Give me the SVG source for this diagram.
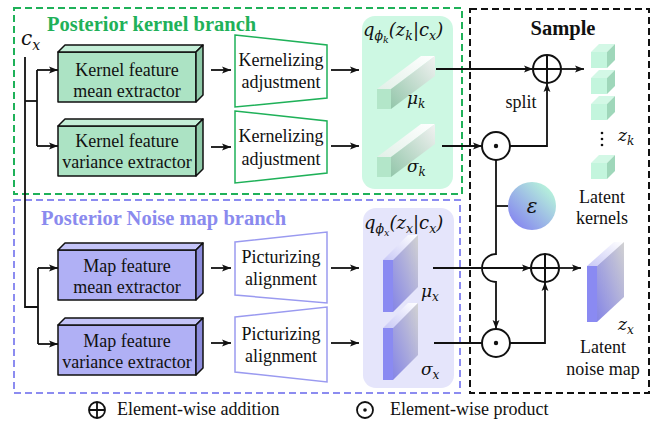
<svg xmlns="http://www.w3.org/2000/svg" width="657" height="422" viewBox="0 0 657 422">
  <style>
    .lbl { font-family: "Liberation Serif", "DejaVu Serif", serif; font-size: 18px; fill: #111; }
    .ttl { font-family: "Liberation Serif", "DejaVu Serif", serif; font-size: 20.5px; font-weight: bold; }
    .math { font-family: "DejaVu Serif", "Liberation Serif", serif; font-style: italic; fill: #111; }
    .wire { fill: none; stroke: #111; stroke-width: 1.8; }
    .arr { marker-end: url(#head); }
    .box { stroke: #111; stroke-width: 1.5; stroke-linejoin: round; }
    .op { fill: #fff; stroke: #111; stroke-width: 2; }
  </style>
  <defs>
    <marker id="head" markerUnits="userSpaceOnUse" markerWidth="10" markerHeight="8" refX="9" refY="4" orient="auto">
      <path d="M0,0.6 L9,4 L0,7.4 L2,4 Z" fill="#111"/>
    </marker>
    <linearGradient id="barTop" x1="0" y1="1" x2="1" y2="0">
      <stop offset="0" stop-color="#e2f0e8"/>
      <stop offset="1" stop-color="#ffffff"/>
    </linearGradient>
    <linearGradient id="barSide" x1="0" y1="1" x2="1" y2="0">
      <stop offset="0" stop-color="#93c6aa"/>
      <stop offset="1" stop-color="#f2f2f2"/>
    </linearGradient>
    <linearGradient id="panTop" x1="0" y1="1" x2="1" y2="0">
      <stop offset="0" stop-color="#c8c8f6"/>
      <stop offset="1" stop-color="#ffffff"/>
    </linearGradient>
    <linearGradient id="panSide" x1="0" y1="1" x2="1" y2="0">
      <stop offset="0" stop-color="#8585e6"/>
      <stop offset="1" stop-color="#d2d2d2"/>
    </linearGradient>
    <linearGradient id="epsFill" x1="0" y1="1" x2="1" y2="0">
      <stop offset="0.1" stop-color="#8585f0"/>
      <stop offset="0.9" stop-color="#b8f6da"/>
    </linearGradient>
  </defs>

  <!-- branch frames -->
  <rect x="14" y="8" width="448" height="186" fill="none" stroke="#1fb159" stroke-width="2" stroke-dasharray="7,4"/>
  <rect x="14" y="200" width="446" height="193" fill="none" stroke="#8c8cf0" stroke-width="2" stroke-dasharray="7,4"/>
  <rect x="470" y="9" width="179" height="384" fill="none" stroke="#111" stroke-width="2" stroke-dasharray="7,4"/>

  <text x="47" y="31" class="ttl" fill="#1fb159">Posterior kernel branch</text>
  <text x="41" y="225" class="ttl" fill="#8a8aee">Posterior Noise map branch</text>
  <text x="563" y="35" class="ttl" fill="#111" text-anchor="middle">Sample</text>

  <!-- distribution panels -->
  <g id="q-kernel">
    <rect x="362" y="16" width="91" height="173" rx="13" fill="#cdf8e3"/>
    <text x="363" y="36" class="math" font-size="18">q<tspan font-size="12.5" dy="4">ϕ</tspan><tspan font-size="9.5" dy="3">k</tspan><tspan font-size="18" dy="-7">(z</tspan><tspan font-size="12.5" dy="4">k</tspan><tspan font-size="18" dy="-4" font-style="normal">|</tspan><tspan font-size="18">c</tspan><tspan font-size="12.5" dy="4">x</tspan><tspan font-size="18" dy="-4">)</tspan></text>
  </g>
  <g id="q-noise">
    <rect x="363" y="208" width="91" height="180" rx="13" fill="#e5e5fb"/>
    <text x="364" y="229" class="math" font-size="18">q<tspan font-size="12.5" dy="4">ϕ</tspan><tspan font-size="9.5" dy="3">x</tspan><tspan font-size="18" dy="-7">(z</tspan><tspan font-size="12.5" dy="4">x</tspan><tspan font-size="18" dy="-4" font-style="normal">|</tspan><tspan font-size="18">c</tspan><tspan font-size="12.5" dy="4">x</tspan><tspan font-size="18" dy="-4">)</tspan></text>
  </g>

  <!-- kernel branch: extractors -->
  <g id="k-mean-extractor">
    <rect x="58" y="52" width="138" height="50" class="box" fill="#ace3c4"/>
    <polygon points="58,52 65,45 203,45 196,52" class="box" fill="#c4eed7"/>
    <polygon points="196,52 203,45 203,95 196,102" class="box" fill="#8fcaa9"/>
    <text x="127" y="76" class="lbl" text-anchor="middle">Kernel feature</text>
    <text x="127" y="97" class="lbl" text-anchor="middle">mean extractor</text>
  </g>
  <g id="k-var-extractor">
    <rect x="58" y="126" width="138" height="50" class="box" fill="#ace3c4"/>
    <polygon points="58,126 65,119 203,119 196,126" class="box" fill="#c4eed7"/>
    <polygon points="196,126 203,119 203,169 196,176" class="box" fill="#8fcaa9"/>
    <text x="127" y="147" class="lbl" text-anchor="middle">Kernel feature</text>
    <text x="127" y="168" class="lbl" text-anchor="middle">variance extractor</text>
  </g>

  <!-- noise branch: extractors -->
  <g id="x-mean-extractor">
    <rect x="58" y="250" width="138" height="50" class="box" fill="#b0b0f5"/>
    <polygon points="58,250 65,243 203,243 196,250" class="box" fill="#c4c4f8"/>
    <polygon points="196,250 203,243 203,293 196,300" class="box" fill="#8c8cdc"/>
    <text x="127" y="272" class="lbl" text-anchor="middle">Map feature</text>
    <text x="127" y="293" class="lbl" text-anchor="middle">mean extractor</text>
  </g>
  <g id="x-var-extractor">
    <rect x="58" y="325" width="138" height="50" class="box" fill="#b0b0f5"/>
    <polygon points="58,325 65,318 203,318 196,325" class="box" fill="#c4c4f8"/>
    <polygon points="196,325 203,318 203,368 196,375" class="box" fill="#8c8cdc"/>
    <text x="127" y="347" class="lbl" text-anchor="middle">Map feature</text>
    <text x="127" y="368" class="lbl" text-anchor="middle">variance extractor</text>
  </g>

  <!-- adjustment / alignment blocks -->
  <g id="k-adjust-1">
    <polygon points="235,35 327,45 327,98 235,107" fill="#fff" stroke="#1fb159" stroke-width="1.5"/>
    <text x="281" y="66" class="lbl" text-anchor="middle">Kernelizing</text>
    <text x="281" y="88" class="lbl" text-anchor="middle">adjustment</text>
  </g>
  <g id="k-adjust-2">
    <polygon points="235,111 327,121 327,173 235,183" fill="#fff" stroke="#1fb159" stroke-width="1.5"/>
    <text x="281" y="142" class="lbl" text-anchor="middle">Kernelizing</text>
    <text x="281" y="165" class="lbl" text-anchor="middle">adjustment</text>
  </g>
  <g id="x-align-1">
    <polygon points="235,242 327,232 327,303 235,295" fill="#fff" stroke="#9a9af0" stroke-width="1.5"/>
    <text x="281" y="263" class="lbl" text-anchor="middle">Picturizing</text>
    <text x="281" y="285" class="lbl" text-anchor="middle">alignment</text>
  </g>
  <g id="x-align-2">
    <polygon points="235,317 327,307 327,382 235,372" fill="#fff" stroke="#9a9af0" stroke-width="1.5"/>
    <text x="281" y="340" class="lbl" text-anchor="middle">Picturizing</text>
    <text x="281" y="362" class="lbl" text-anchor="middle">alignment</text>
  </g>

  <!-- kernel mean / variance bars -->
  <g id="mu-k">
    <polygon points="377,89 421,56 435,56 391,89" fill="url(#barTop)"/>
    <polygon points="391,89 435,56 435,76 391,109" fill="url(#barSide)"/>
    <rect x="377" y="89" width="14" height="20" fill="#b3e6c9"/>
    <text x="407" y="104" class="math" font-size="17">μ<tspan font-size="12" dy="4">k</tspan></text>
  </g>
  <g id="sigma-k">
    <polygon points="377,157 421,124 435,124 391,157" fill="url(#barTop)"/>
    <polygon points="391,157 435,124 435,144 391,177" fill="url(#barSide)"/>
    <rect x="377" y="157" width="14" height="20" fill="#b3e6c9"/>
    <text x="407" y="172" class="math" font-size="17">σ<tspan font-size="12" dy="4">k</tspan></text>
  </g>

  <!-- noise mean / variance panels -->
  <g id="mu-x">
    <polygon points="383,260 408,235 418,235 393,260" fill="url(#panTop)"/>
    <polygon points="393,260 418,235 418,287 393,312" fill="url(#panSide)"/>
    <rect x="383" y="260" width="10" height="52" fill="#8a8af2"/>
    <text x="421" y="297" class="math" font-size="17">μ<tspan font-size="12" dy="4">x</tspan></text>
  </g>
  <g id="sigma-x">
    <polygon points="383,328 408,303 418,303 393,328" fill="url(#panTop)"/>
    <polygon points="393,328 418,303 418,355 393,380" fill="url(#panSide)"/>
    <rect x="383" y="328" width="10" height="52" fill="#8a8af2"/>
    <text x="421" y="375" class="math" font-size="17">σ<tspan font-size="12" dy="4">x</tspan></text>
  </g>

  <!-- connectors -->
  <g id="connectors">
    <path class="wire" d="M25,57 V307 H38"/>
    <path class="wire" d="M25,101 H37"/>
    <path class="wire" d="M37,70 V146"/>
    <path class="wire arr" d="M37,70 H58"/>
    <path class="wire arr" d="M37,146 H58"/>
    <path class="wire" d="M38,268 V344"/>
    <path class="wire arr" d="M38,268 H58"/>
    <path class="wire arr" d="M38,344 H58"/>

    <path class="wire arr" d="M211,70 H231"/>
    <path class="wire arr" d="M211,147 H231"/>
    <path class="wire arr" d="M211,268 H231"/>
    <path class="wire arr" d="M211,343 H231"/>

    <path class="wire arr" d="M331,70 H359"/>
    <path class="wire arr" d="M331,146 H359"/>
    <path class="wire arr" d="M331,268 H359"/>
    <path class="wire arr" d="M331,343 H359"/>

    <path class="wire arr" d="M436,69 H533"/>
    <path class="wire arr" d="M442,146 H482"/>
    <path class="wire arr" d="M510,146 H547 V83"/>
    <path class="wire arr" d="M561,69 H584"/>

    <path class="wire arr" d="M496,160 V254 A14,14 0 0 0 496,282 V329"/>
    <path class="wire" d="M496,206 H508"/>

    <path class="wire arr" d="M433,268 H531"/>
    <path class="wire" d="M434,343 H482"/>
    <path class="wire arr" d="M510,343 H545 V282"/>
    <path class="wire arr" d="M559,268 H581"/>
  </g>

  <!-- sampling operators -->
  <g id="add-k">
    <circle cx="547" cy="69" r="14" class="op"/>
    <path d="M533,69 H561 M547,55 V83" stroke="#111" stroke-width="2"/>
  </g>
  <g id="mul-k">
    <circle cx="496" cy="146" r="14" class="op"/>
    <circle cx="496" cy="146" r="2.2" fill="#111"/>
  </g>
  <g id="add-x">
    <circle cx="545" cy="268" r="14" class="op"/>
    <path d="M531,268 H559 M545,254 V282" stroke="#111" stroke-width="2"/>
  </g>
  <g id="mul-x">
    <circle cx="496" cy="343" r="14" class="op"/>
    <circle cx="496" cy="343" r="2.2" fill="#111"/>
  </g>
  <g id="epsilon">
    <circle cx="532" cy="206" r="24" fill="url(#epsFill)"/>
    <text x="532" y="213" class="math" font-size="20" text-anchor="middle">ε</text>
  </g>
  <text x="521" y="108" class="lbl" text-anchor="middle">split</text>

  <!-- latent kernels -->
  <g id="latent-kernels">
    <g>
      <polygon points="591,52 599,44 615,44 607,52" fill="#d3f8e6"/>
      <polygon points="607,52 615,44 615,60 607,68" fill="#9fd7ba"/>
      <rect x="591" y="52" width="16" height="16" fill="#c3f5dd"/>
    </g>
    <g>
      <polygon points="591,78 599,70 615,70 607,78" fill="#d3f8e6"/>
      <polygon points="607,78 615,70 615,86 607,94" fill="#9fd7ba"/>
      <rect x="591" y="78" width="16" height="16" fill="#c3f5dd"/>
    </g>
    <g>
      <polygon points="591,104 599,96 615,96 607,104" fill="#d3f8e6"/>
      <polygon points="607,104 615,96 615,112 607,120" fill="#9fd7ba"/>
      <rect x="591" y="104" width="16" height="16" fill="#c3f5dd"/>
    </g>
    <g>
      <polygon points="591,163 599,155 615,155 607,163" fill="#d3f8e6"/>
      <polygon points="607,163 615,155 615,171 607,179" fill="#9fd7ba"/>
      <rect x="591" y="163" width="16" height="16" fill="#c3f5dd"/>
    </g>
    <circle cx="602" cy="133" r="1.3" fill="#111"/>
    <circle cx="602" cy="139" r="1.3" fill="#111"/>
    <circle cx="602" cy="145" r="1.3" fill="#111"/>
    <text x="618" y="141" class="math" font-size="17">z<tspan font-size="12" dy="4">k</tspan></text>
    <text x="602" y="203" class="lbl" text-anchor="middle">Latent</text>
    <text x="602" y="224" class="lbl" text-anchor="middle">kernels</text>
  </g>

  <!-- latent noise map -->
  <g id="latent-noise-map">
    <polygon points="587,266 614,242 624,242 597,266" fill="url(#panTop)"/>
    <polygon points="597,266 624,242 624,297 597,322" fill="url(#panSide)"/>
    <rect x="587" y="266" width="10" height="56" fill="#8a8af2"/>
    <text x="618" y="330" class="math" font-size="17">z<tspan font-size="12" dy="4">x</tspan></text>
    <text x="603" y="353" class="lbl" text-anchor="middle">Latent</text>
    <text x="603" y="375" class="lbl" text-anchor="middle">noise map</text>
  </g>

  <!-- c_x input label -->
  <text x="21" y="45" class="math" font-size="20">c<tspan font-size="14" dy="5">x</tspan></text>

  <!-- legend -->
  <g id="legend">
    <circle cx="97" cy="410" r="8" fill="none" stroke="#111" stroke-width="1.8"/>
    <path d="M89,410 H105 M97,402 V418" stroke="#111" stroke-width="1.8"/>
    <text x="117" y="415" class="lbl" font-size="17.5">Element-wise addition</text>
    <circle cx="365" cy="410" r="8" fill="none" stroke="#111" stroke-width="1.8"/>
    <circle cx="365" cy="410" r="1.8" fill="#111"/>
    <text x="390" y="415" class="lbl" font-size="17.5">Element-wise product</text>
  </g>
</svg>
